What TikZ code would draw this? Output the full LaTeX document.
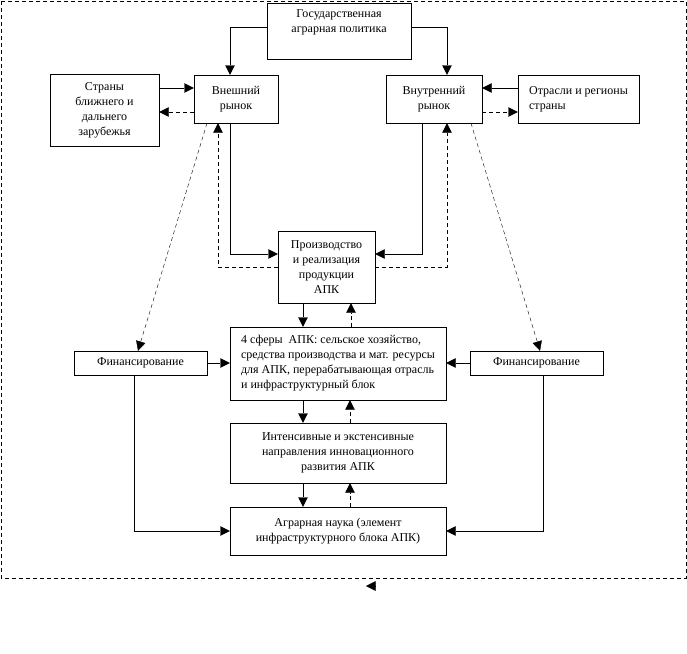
\documentclass[tikz,border=0pt]{standalone}
\usepackage{fontspec}
\setmainfont{Liberation Serif}
\usetikzlibrary{arrows.meta}
\tikzset{
  box/.style={draw, inner sep=2pt, align=center, font=\fontsize{12}{15}\selectfont},
  flowarrow/.style={-{Triangle[length=9.5pt,width=9.5pt]}},
  backarrow/.style={-{Triangle[length=9.5pt,width=9.5pt]}, dash pattern=on 4pt off 3pt},
  frame/.style={dash pattern=on 4pt off 3pt}
}

\begin{document}
\begin{tikzpicture}[x=1pt,y=-1pt]
        \useasboundingbox (0,0) rectangle (687,653);
        \draw[frame] (1,1) rectangle (686,578);

        \node[box, minimum width=144pt, minimum height=56pt] (gov) at (339,31) {Государственная\\аграрная политика\\\strut};
        \node[box, minimum width=109pt, minimum height=72pt] (strany) at (104.5,110) {Страны\\ближнего и\\дальнего\\зарубежья};
        \node[box, minimum width=84pt, minimum height=48pt] (vnesh) at (236,99) {Внешний\\рынок};
        \node[box, minimum width=96pt, minimum height=48pt] (vnutr) at (434,99) {Внутренний\\рынок};
        \node[box, align=left, minimum width=121pt, minimum height=48pt] (otrasli) at (578.5,99) {Отрасли и регионы\\страны};
        \node[box, minimum width=97pt, minimum height=72pt] (proizv) at (326.5,267) {Производство\\и реализация\\продукции\\АПК};
        \node[box, align=left, minimum width=216pt, minimum height=73pt] (sfery) at (338,363.5) {4 сферы\ \ АПК: сельское хозяйство,\\средства производства и мат. ресурсы\\для АПК, перерабатывающая отрасль\\и инфраструктурный блок};
        \node[box, minimum width=133pt, minimum height=24pt] (finl) at (140.5,363) {Финансирование};
        \node[box, minimum width=133pt, minimum height=24pt] (finr) at (536.5,363) {Финансирование};
        \node[box, minimum width=216pt, minimum height=60pt] (intens) at (338,453) {Интенсивные и экстенсивные\\направления инновационного\\развития АПК};
        \node[box, minimum width=216pt, minimum height=48pt] (nauka) at (338,531) {Аграрная наука (элемент\\инфраструктурного блока АПК)};

        \draw[flowarrow] ([yshift=4pt]gov.west) -| ([xshift=-6pt]vnesh.north);
        \draw[flowarrow] ([yshift=4pt]gov.east) -| ([xshift=13pt]vnutr.north);

        \draw[flowarrow] ([yshift=22pt]strany.east) -- ([yshift=11pt]vnesh.west);
        \draw[backarrow] ([yshift=-13pt]vnesh.west) -- ([yshift=-2pt]strany.east);
        \draw[flowarrow] ([yshift=11pt]otrasli.west) -- ([yshift=11pt]vnutr.east);
        \draw[backarrow] ([yshift=-13pt]vnutr.east) -- ([yshift=-13pt]otrasli.west);

        \draw[flowarrow] ([xshift=-6pt]vnesh.south) |- ([yshift=13pt]proizv.west);
        \draw[backarrow] (proizv.west) -| ([xshift=-18pt]vnesh.south);
        \draw[flowarrow] ([xshift=-12pt]vnutr.south) |- ([yshift=13pt]proizv.east);
        \draw[backarrow] (proizv.east) -| ([xshift=13pt]vnutr.south);

        \draw[backarrow] ([xshift=-29pt]vnesh.south) -- ([xshift=-2.5pt]finl.north);
        \draw[backarrow] ([xshift=37pt]vnutr.south) -- ([xshift=3.5pt]finr.north);

        \draw[flowarrow] ([xshift=-23.5pt]proizv.south) -- ([xshift=-35pt]sfery.north);
        \draw[backarrow] ([xshift=13pt]sfery.north) -- ([xshift=24.5pt]proizv.south);
        \draw[flowarrow] (finl.east) -- (finl.east -| sfery.west);
        \draw[flowarrow] (finr.west) -- (finr.west -| sfery.east);

        \draw[flowarrow] ([xshift=-35pt]sfery.south) -- ([xshift=-35pt]intens.north);
        \draw[backarrow] ([xshift=12pt]intens.north) -- ([xshift=12pt]sfery.south);
        \draw[flowarrow] ([xshift=-35pt]intens.south) -- ([xshift=-35pt]nauka.north);
        \draw[backarrow] ([xshift=12pt]nauka.north) -- ([xshift=12pt]intens.south);

        \draw[flowarrow] ([xshift=-6pt]finl.south) |- (nauka.west);
        \draw[flowarrow] ([xshift=6.5pt]finr.south) |- (nauka.east);

        \coordinate (tail) at (376,586);
        \coordinate (tip) at (366,586);
        \draw[flowarrow] (tail) -- (tip);
    \end{tikzpicture}
\end{document}
